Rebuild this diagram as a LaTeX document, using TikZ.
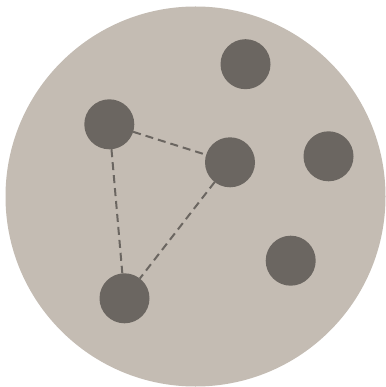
\documentclass[tikz,border=0pt]{standalone}
\begin{document}
\begin{tikzpicture}[x=1pt,y=-1pt,
  bgcol/.style={fill=bigfill},
  dot/.style={circle,fill=dotfill,minimum size=50pt,inner sep=0pt,outer sep=0pt},
  link/.style={draw=dotfill,line width=2pt,dash pattern=on 8pt off 5pt}]
\definecolor{bigfill}{HTML}{C4BCB3}
\definecolor{dotfill}{HTML}{6B6661}
\useasboundingbox (0,0) rectangle (385,387);
\fill[white] (0,0) rectangle (385,387);
\node[circle,bgcol,minimum size=380pt,inner sep=0pt] (disc) at (195.5,196.5) {};
\node[dot] (a) at (245.5,64.2) {};
\node[dot] (b) at (109.3,124.3) {};
\node[dot] (c) at (230,162.3) {};
\node[dot] (d) at (328.5,156.3) {};
\node[dot] (e) at (290.7,260.7) {};
\node[dot] (f) at (124.5,298.3) {};
\draw[link] (b) -- (c);
\draw[link] (b) -- (f);
\draw[link] (c) -- (f);
\end{tikzpicture}
\end{document}
